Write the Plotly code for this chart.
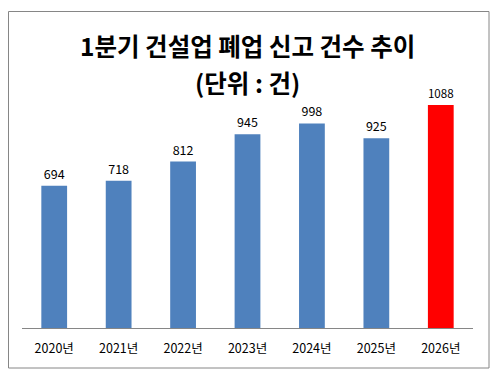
import plotly.graph_objects as go

years = ["2020년", "2021년", "2022년", "2023년", "2024년", "2025년", "2026년"]
counts = [694, 718, 812, 945, 998, 925, 1088]
colors = ["#4F81BD"] * 6 + ["#FF0000"]

title_line1 = "1분기 건설업 폐업 신고 건수 추이"
title_line2 = "(단위 : 건)"

FONT = "Noto Sans CJK KR, Malgun Gothic, sans-serif"

# page has default 8px body margin; figure drawn at (8, 8)
OFF = 8
W, H = 503 - 2 * OFF, 382 - 2 * OFF
# plot area in page coords: x 22..473, y 82..328
PL, PR, PT, PB = 22, 473, 82, 328
L, T = PL - OFF, PT - OFF
R = W - (PR - OFF)
B = H - (PB - OFF)
pw, ph = PR - PL, PB - PT

def px_x(x):
    return (x - PL) / pw

def px_y(y):
    return (PB - y) / ph

fig = go.Figure(go.Bar(
    x=years, y=counts,
    marker=dict(color=colors, line=dict(width=0)),
    text=[str(v) for v in counts],
    textposition="outside",
    textfont=dict(family=FONT, size=12.5, color="#000000"),
    cliponaxis=False,
    width=0.4,
))

fig.update_layout(
    width=W, height=H,
    margin=dict(l=L, r=R, t=T, b=B, pad=0),
    paper_bgcolor="white", plot_bgcolor="white",
    showlegend=False,
    font=dict(family=FONT, color="#000000"),
    xaxis=dict(
        showline=True, linecolor="#868686", linewidth=1,
        ticks="", tickfont=dict(family=FONT, size=12.5, color="#000000"),
        ticklabelstandoff=9,
        showgrid=False, fixedrange=True,
    ),
    yaxis=dict(range=[0, 1200], visible=False, showgrid=False, fixedrange=True),
    shapes=[dict(
        type="rect", xref="paper", yref="paper",
        x0=px_x(8.5), x1=px_x(489), y0=px_y(368), y1=px_y(11.5),
        line=dict(color="#868686", width=1), fillcolor="rgba(0,0,0,0)",
    )],
    annotations=[
        dict(text=f"<b>{title_line1}</b>", xref="paper", yref="paper",
             x=px_x(247), y=px_y(45), xanchor="center", yanchor="middle",
             showarrow=False, font=dict(family=FONT, size=24.5, color="#000000")),
        dict(text=f"<b>{title_line2}</b>", xref="paper", yref="paper",
             x=px_x(247), y=px_y(82), xanchor="center", yanchor="middle",
             showarrow=False, font=dict(family=FONT, size=24.5, color="#000000")),
    ],
)

fig.write_html("out.html")
